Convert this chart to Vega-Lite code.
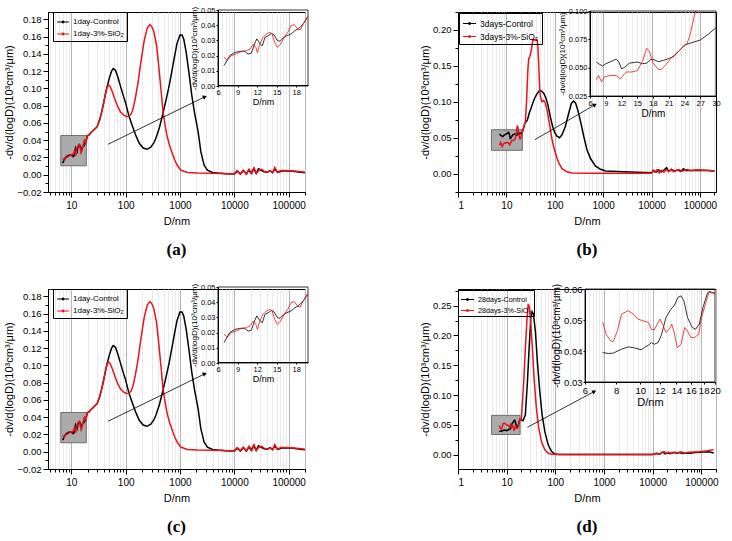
{
"$schema": "https://vega.github.io/schema/vega-lite/v6.json",
"padding": {"left": 3, "top": 5, "right": 0, "bottom": 0},
"background": "white",
"config": {
  "font": "Liberation Sans",
  "view": {"stroke": "black", "strokeWidth": 1},
  "axis": {"domainColor": "black", "tickColor": "black", "labelColor": "black", "titleColor": "black", "titleFontWeight": "normal", "labelFont": "Liberation Sans", "titleFont": "Liberation Sans", "grid": false, "labelOverlap": false},
  "legend": {"labelFont": "Liberation Sans"}
},
"datasets": {
"one": [{}],
"A": [
{"s":"1day-Control","D":6.92,"v":0.0134},{"s":"1day-Control","D":7.8,"v":0.020},{"s":"1day-Control","D":8.56,"v":0.022},{"s":"1day-Control","D":9.33,"v":0.0228},{"s":"1day-Control","D":10.1,"v":0.0228},{"s":"1day-Control","D":10.6,"v":0.021},{"s":"1day-Control","D":11.1,"v":0.0215},{"s":"1day-Control","D":11.6,"v":0.0276},{"s":"1day-Control","D":11.95,"v":0.031},{"s":"1day-Control","D":12.4,"v":0.028},{"s":"1day-Control","D":12.8,"v":0.0265},{"s":"1day-Control","D":13.2,"v":0.032},{"s":"1day-Control","D":13.7,"v":0.0331},{"s":"1day-Control","D":14.2,"v":0.0346},{"s":"1day-Control","D":14.6,"v":0.0336},{"s":"1day-Control","D":15.1,"v":0.030},{"s":"1day-Control","D":15.5,"v":0.0294},{"s":"1day-Control","D":16.0,"v":0.0316},{"s":"1day-Control","D":16.5,"v":0.033},{"s":"1day-Control","D":17.2,"v":0.0342},{"s":"1day-Control","D":17.8,"v":0.0364},{"s":"1day-Control","D":18.3,"v":0.0375},{"s":"1day-Control","D":19.1,"v":0.041},{"s":"1day-Control","D":19.7,"v":0.045},{"s":"1day-Control","D":21,"v":0.046},{"s":"1day-Control","D":23,"v":0.049},{"s":"1day-Control","D":25,"v":0.051},{"s":"1day-Control","D":27,"v":0.053},{"s":"1day-Control","D":30,"v":0.056},{"s":"1day-Control","D":33,"v":0.063},{"s":"1day-Control","D":36,"v":0.072},{"s":"1day-Control","D":39,"v":0.082},{"s":"1day-Control","D":42,"v":0.092},{"s":"1day-Control","D":45,"v":0.101},{"s":"1day-Control","D":50,"v":0.112},{"s":"1day-Control","D":55,"v":0.12},{"s":"1day-Control","D":59,"v":0.123},{"s":"1day-Control","D":65,"v":0.121},{"s":"1day-Control","D":72,"v":0.113},{"s":"1day-Control","D":80,"v":0.103},{"s":"1day-Control","D":90,"v":0.092},{"s":"1day-Control","D":100,"v":0.083},{"s":"1day-Control","D":115,"v":0.068},{"s":"1day-Control","D":134,"v":0.056},{"s":"1day-Control","D":155,"v":0.045},{"s":"1day-Control","D":178,"v":0.0365},{"s":"1day-Control","D":210,"v":0.031},{"s":"1day-Control","D":248,"v":0.0295},{"s":"1day-Control","D":290,"v":0.032},{"s":"1day-Control","D":330,"v":0.037},{"s":"1day-Control","D":359,"v":0.042},{"s":"1day-Control","D":420,"v":0.055},{"s":"1day-Control","D":489,"v":0.072},{"s":"1day-Control","D":560,"v":0.088},{"s":"1day-Control","D":631,"v":0.103},{"s":"1day-Control","D":700,"v":0.118},{"s":"1day-Control","D":777,"v":0.134},{"s":"1day-Control","D":880,"v":0.152},{"s":"1day-Control","D":1000,"v":0.162},{"s":"1day-Control","D":1090,"v":0.162},{"s":"1day-Control","D":1175,"v":0.157},{"s":"1day-Control","D":1300,"v":0.142},{"s":"1day-Control","D":1463,"v":0.118},{"s":"1day-Control","D":1650,"v":0.092},{"s":"1day-Control","D":1850,"v":0.072},{"s":"1day-Control","D":2155,"v":0.050},{"s":"1day-Control","D":2415,"v":0.027},{"s":"1day-Control","D":2780,"v":0.0112},{"s":"1day-Control","D":3200,"v":0.0054},{"s":"1day-Control","D":3980,"v":0.0026},{"s":"1day-Control","D":4900,"v":0.0019},{"s":"1day-Control","D":7000,"v":0.0012},{"s":"1day-Control","D":10000,"v":0.0008},{"s":"1day-Control","D":11500,"v":0.0042},{"s":"1day-Control","D":13000,"v":0.0006},{"s":"1day-Control","D":14800,"v":0.0048},{"s":"1day-Control","D":16800,"v":0.0008},{"s":"1day-Control","D":18400,"v":0.0055},{"s":"1day-Control","D":20400,"v":0.0018},{"s":"1day-Control","D":22700,"v":0.0072},{"s":"1day-Control","D":25200,"v":0.0015},{"s":"1day-Control","D":27800,"v":0.0068},{"s":"1day-Control","D":31300,"v":0.0052},{"s":"1day-Control","D":35300,"v":0.0034},{"s":"1day-Control","D":39700,"v":0.0028},{"s":"1day-Control","D":45500,"v":0.0048},{"s":"1day-Control","D":50400,"v":0.0024},{"s":"1day-Control","D":55100,"v":0.0065},{"s":"1day-Control","D":63000,"v":0.0028},{"s":"1day-Control","D":75000,"v":0.0044},{"s":"1day-Control","D":94000,"v":0.0046},{"s":"1day-Control","D":112000,"v":0.0042},{"s":"1day-Control","D":139000,"v":0.0034},{"s":"1day-Control","D":165000,"v":0.0028},{"s":"1day-Control","D":199000,"v":0.0022},
{"s":"1day-3%-SiO₂","D":6.92,"v":0.0189},{"s":"1day-3%-SiO₂","D":7.44,"v":0.017},{"s":"1day-3%-SiO₂","D":8.05,"v":0.020},{"s":"1day-3%-SiO₂","D":8.8,"v":0.021},{"s":"1day-3%-SiO₂","D":9.6,"v":0.0228},{"s":"1day-3%-SiO₂","D":10.36,"v":0.0232},{"s":"1day-3%-SiO₂","D":10.9,"v":0.0243},{"s":"1day-3%-SiO₂","D":11.4,"v":0.0276},{"s":"1day-3%-SiO₂","D":11.8,"v":0.0254},{"s":"1day-3%-SiO₂","D":12.05,"v":0.022},{"s":"1day-3%-SiO₂","D":12.4,"v":0.0276},{"s":"1day-3%-SiO₂","D":12.9,"v":0.032},{"s":"1day-3%-SiO₂","D":13.4,"v":0.0342},{"s":"1day-3%-SiO₂","D":13.95,"v":0.0353},{"s":"1day-3%-SiO₂","D":14.3,"v":0.0342},{"s":"1day-3%-SiO₂","D":14.7,"v":0.0287},{"s":"1day-3%-SiO₂","D":15.1,"v":0.0254},{"s":"1day-3%-SiO₂","D":15.6,"v":0.0276},{"s":"1day-3%-SiO₂","D":16.15,"v":0.032},{"s":"1day-3%-SiO₂","D":16.7,"v":0.0353},{"s":"1day-3%-SiO₂","D":17.2,"v":0.0397},{"s":"1day-3%-SiO₂","D":17.7,"v":0.0404},{"s":"1day-3%-SiO₂","D":18.2,"v":0.0375},{"s":"1day-3%-SiO₂","D":18.6,"v":0.0368},{"s":"1day-3%-SiO₂","D":19.1,"v":0.041},{"s":"1day-3%-SiO₂","D":19.7,"v":0.0456},{"s":"1day-3%-SiO₂","D":21,"v":0.046},{"s":"1day-3%-SiO₂","D":23,"v":0.049},{"s":"1day-3%-SiO₂","D":25,"v":0.051},{"s":"1day-3%-SiO₂","D":27,"v":0.053},{"s":"1day-3%-SiO₂","D":30,"v":0.056},{"s":"1day-3%-SiO₂","D":33,"v":0.063},{"s":"1day-3%-SiO₂","D":36,"v":0.072},{"s":"1day-3%-SiO₂","D":39,"v":0.082},{"s":"1day-3%-SiO₂","D":42,"v":0.092},{"s":"1day-3%-SiO₂","D":45,"v":0.1},{"s":"1day-3%-SiO₂","D":48,"v":0.104},{"s":"1day-3%-SiO₂","D":52,"v":0.102},{"s":"1day-3%-SiO₂","D":57,"v":0.096},{"s":"1day-3%-SiO₂","D":63,"v":0.088},{"s":"1day-3%-SiO₂","D":70,"v":0.080},{"s":"1day-3%-SiO₂","D":80,"v":0.073},{"s":"1day-3%-SiO₂","D":92,"v":0.069},{"s":"1day-3%-SiO₂","D":104,"v":0.0675},{"s":"1day-3%-SiO₂","D":114,"v":0.0677},{"s":"1day-3%-SiO₂","D":125,"v":0.070},{"s":"1day-3%-SiO₂","D":135,"v":0.075},{"s":"1day-3%-SiO₂","D":150,"v":0.088},{"s":"1day-3%-SiO₂","D":170,"v":0.108},{"s":"1day-3%-SiO₂","D":190,"v":0.13},{"s":"1day-3%-SiO₂","D":220,"v":0.156},{"s":"1day-3%-SiO₂","D":250,"v":0.17},{"s":"1day-3%-SiO₂","D":279,"v":0.174},{"s":"1day-3%-SiO₂","D":300,"v":0.172},{"s":"1day-3%-SiO₂","D":330,"v":0.166},{"s":"1day-3%-SiO₂","D":370,"v":0.150},{"s":"1day-3%-SiO₂","D":400,"v":0.130},{"s":"1day-3%-SiO₂","D":450,"v":0.097},{"s":"1day-3%-SiO₂","D":489,"v":0.072},{"s":"1day-3%-SiO₂","D":530,"v":0.058},{"s":"1day-3%-SiO₂","D":582,"v":0.044},{"s":"1day-3%-SiO₂","D":650,"v":0.033},{"s":"1day-3%-SiO₂","D":721,"v":0.025},{"s":"1day-3%-SiO₂","D":800,"v":0.017},{"s":"1day-3%-SiO₂","D":892,"v":0.011},{"s":"1day-3%-SiO₂","D":1030,"v":0.0054},{"s":"1day-3%-SiO₂","D":1367,"v":0.0027},{"s":"1day-3%-SiO₂","D":2100,"v":0.002},{"s":"1day-3%-SiO₂","D":4000,"v":0.0018},{"s":"1day-3%-SiO₂","D":6000,"v":0.0015},{"s":"1day-3%-SiO₂","D":8000,"v":0.0012},{"s":"1day-3%-SiO₂","D":10000,"v":0.0009},{"s":"1day-3%-SiO₂","D":11200,"v":0.0048},{"s":"1day-3%-SiO₂","D":12800,"v":0.0008},{"s":"1day-3%-SiO₂","D":14500,"v":0.0052},{"s":"1day-3%-SiO₂","D":16500,"v":0.0006},{"s":"1day-3%-SiO₂","D":18800,"v":0.0062},{"s":"1day-3%-SiO₂","D":21000,"v":0.0012},{"s":"1day-3%-SiO₂","D":23200,"v":0.0078},{"s":"1day-3%-SiO₂","D":25500,"v":0.0014},{"s":"1day-3%-SiO₂","D":28500,"v":0.0056},{"s":"1day-3%-SiO₂","D":32000,"v":0.0064},{"s":"1day-3%-SiO₂","D":36000,"v":0.0036},{"s":"1day-3%-SiO₂","D":41000,"v":0.0030},{"s":"1day-3%-SiO₂","D":46000,"v":0.0046},{"s":"1day-3%-SiO₂","D":51000,"v":0.0026},{"s":"1day-3%-SiO₂","D":55500,"v":0.0084},{"s":"1day-3%-SiO₂","D":62000,"v":0.003},{"s":"1day-3%-SiO₂","D":72000,"v":0.0048},{"s":"1day-3%-SiO₂","D":90000,"v":0.0050},{"s":"1day-3%-SiO₂","D":110000,"v":0.0046},{"s":"1day-3%-SiO₂","D":140000,"v":0.0040},{"s":"1day-3%-SiO₂","D":170000,"v":0.0034},{"s":"1day-3%-SiO₂","D":199000,"v":0.0028}
],
"B": [
{"s":"3days-Control","D":7.2,"v":0.055},{"s":"3days-Control","D":7.8,"v":0.053},{"s":"3days-Control","D":8.4,"v":0.0515},{"s":"3days-Control","D":9,"v":0.0535},{"s":"3days-Control","D":9.8,"v":0.055},{"s":"3days-Control","D":10.5,"v":0.0565},{"s":"3days-Control","D":11,"v":0.0575},{"s":"3days-Control","D":11.5,"v":0.055},{"s":"3days-Control","D":12,"v":0.049},{"s":"3days-Control","D":12.5,"v":0.050},{"s":"3days-Control","D":13.5,"v":0.054},{"s":"3days-Control","D":15,"v":0.055},{"s":"3days-Control","D":16,"v":0.0535},{"s":"3days-Control","D":16.8,"v":0.054},{"s":"3days-Control","D":17.5,"v":0.057},{"s":"3days-Control","D":18,"v":0.0574},{"s":"3days-Control","D":19,"v":0.0553},{"s":"3days-Control","D":20,"v":0.0565},{"s":"3days-Control","D":21,"v":0.058},{"s":"3days-Control","D":22,"v":0.060},{"s":"3days-Control","D":23,"v":0.065},{"s":"3days-Control","D":24,"v":0.070},{"s":"3days-Control","D":25,"v":0.0715},{"s":"3days-Control","D":27,"v":0.0744},{"s":"3days-Control","D":28.5,"v":0.0794},{"s":"3days-Control","D":30,"v":0.0853},{"s":"3days-Control","D":32,"v":0.090},{"s":"3days-Control","D":35,"v":0.098},{"s":"3days-Control","D":39,"v":0.106},{"s":"3days-Control","D":43,"v":0.111},{"s":"3days-Control","D":47,"v":0.115},{"s":"3days-Control","D":50.5,"v":0.116},{"s":"3days-Control","D":55,"v":0.114},{"s":"3days-Control","D":59,"v":0.112},{"s":"3days-Control","D":65,"v":0.106},{"s":"3days-Control","D":72,"v":0.096},{"s":"3days-Control","D":81,"v":0.079},{"s":"3days-Control","D":90,"v":0.066},{"s":"3days-Control","D":100,"v":0.057},{"s":"3days-Control","D":111,"v":0.052},{"s":"3days-Control","D":125,"v":0.050},{"s":"3days-Control","D":141,"v":0.054},{"s":"3days-Control","D":166,"v":0.066},{"s":"3days-Control","D":194,"v":0.084},{"s":"3days-Control","D":221,"v":0.098},{"s":"3days-Control","D":245,"v":0.101},{"s":"3days-Control","D":270,"v":0.098},{"s":"3days-Control","D":300,"v":0.088},{"s":"3days-Control","D":340,"v":0.073},{"s":"3days-Control","D":397,"v":0.052},{"s":"3days-Control","D":465,"v":0.033},{"s":"3days-Control","D":548,"v":0.021},{"s":"3days-Control","D":690,"v":0.0107},{"s":"3days-Control","D":880,"v":0.006},{"s":"3days-Control","D":1120,"v":0.0036},{"s":"3days-Control","D":2000,"v":0.0028},{"s":"3days-Control","D":5000,"v":0.0018},{"s":"3days-Control","D":10000,"v":0.0012},{"s":"3days-Control","D":11000,"v":0.004},{"s":"3days-Control","D":12500,"v":0.002},{"s":"3days-Control","D":14000,"v":0.005},{"s":"3days-Control","D":16000,"v":0.0025},{"s":"3days-Control","D":18000,"v":0.005},{"s":"3days-Control","D":20500,"v":0.0082},{"s":"3days-Control","D":22500,"v":0.003},{"s":"3days-Control","D":26000,"v":0.0055},{"s":"3days-Control","D":30000,"v":0.0035},{"s":"3days-Control","D":35000,"v":0.005},{"s":"3days-Control","D":40000,"v":0.0032},{"s":"3days-Control","D":46000,"v":0.0068},{"s":"3days-Control","D":52000,"v":0.004},{"s":"3days-Control","D":60000,"v":0.0045},{"s":"3days-Control","D":75000,"v":0.0042},{"s":"3days-Control","D":95000,"v":0.0048},{"s":"3days-Control","D":120000,"v":0.0045},{"s":"3days-Control","D":150000,"v":0.0042},{"s":"3days-Control","D":180000,"v":0.0038},{"s":"3days-Control","D":200000,"v":0.0035},
{"s":"3days-3%-SiO₂","D":7.2,"v":0.0394},{"s":"3days-3%-SiO₂","D":7.6,"v":0.0432},{"s":"3days-3%-SiO₂","D":8.2,"v":0.0376},{"s":"3days-3%-SiO₂","D":8.8,"v":0.042},{"s":"3days-3%-SiO₂","D":10,"v":0.0432},{"s":"3days-3%-SiO₂","D":11,"v":0.043},{"s":"3days-3%-SiO₂","D":11.8,"v":0.0400},{"s":"3days-3%-SiO₂","D":12.5,"v":0.0444},{"s":"3days-3%-SiO₂","D":13,"v":0.0462},{"s":"3days-3%-SiO₂","D":14,"v":0.0462},{"s":"3days-3%-SiO₂","D":15,"v":0.0474},{"s":"3days-3%-SiO₂","D":16,"v":0.0556},{"s":"3days-3%-SiO₂","D":16.8,"v":0.067},{"s":"3days-3%-SiO₂","D":17.3,"v":0.0647},{"s":"3days-3%-SiO₂","D":18,"v":0.0544},{"s":"3days-3%-SiO₂","D":19,"v":0.0485},{"s":"3days-3%-SiO₂","D":19.6,"v":0.0485},{"s":"3days-3%-SiO₂","D":20.5,"v":0.0529},{"s":"3days-3%-SiO₂","D":21.5,"v":0.0588},{"s":"3days-3%-SiO₂","D":23,"v":0.065},{"s":"3days-3%-SiO₂","D":24.5,"v":0.0715},{"s":"3days-3%-SiO₂","D":25,"v":0.078},{"s":"3days-3%-SiO₂","D":25.5,"v":0.088},{"s":"3days-3%-SiO₂","D":26,"v":0.0985},{"s":"3days-3%-SiO₂","D":26.1,"v":0.100},{"s":"3days-3%-SiO₂","D":27,"v":0.125},{"s":"3days-3%-SiO₂","D":28,"v":0.148},{"s":"3days-3%-SiO₂","D":29,"v":0.16},{"s":"3days-3%-SiO₂","D":30.5,"v":0.163},{"s":"3days-3%-SiO₂","D":32,"v":0.168},{"s":"3days-3%-SiO₂","D":34,"v":0.179},{"s":"3days-3%-SiO₂","D":35.5,"v":0.187},{"s":"3days-3%-SiO₂","D":38,"v":0.186},{"s":"3days-3%-SiO₂","D":40,"v":0.187},{"s":"3days-3%-SiO₂","D":43,"v":0.186},{"s":"3days-3%-SiO₂","D":44.5,"v":0.181},{"s":"3days-3%-SiO₂","D":46.7,"v":0.149},{"s":"3days-3%-SiO₂","D":48.9,"v":0.116},{"s":"3days-3%-SiO₂","D":50.5,"v":0.107},{"s":"3days-3%-SiO₂","D":54.6,"v":0.100},{"s":"3days-3%-SiO₂","D":59,"v":0.102},{"s":"3days-3%-SiO₂","D":64,"v":0.098},{"s":"3days-3%-SiO₂","D":70,"v":0.087},{"s":"3days-3%-SiO₂","D":75,"v":0.075},{"s":"3days-3%-SiO₂","D":82,"v":0.060},{"s":"3days-3%-SiO₂","D":88,"v":0.047},{"s":"3days-3%-SiO₂","D":95,"v":0.037},{"s":"3days-3%-SiO₂","D":103,"v":0.029},{"s":"3days-3%-SiO₂","D":112,"v":0.021},{"s":"3days-3%-SiO₂","D":121,"v":0.015},{"s":"3days-3%-SiO₂","D":141,"v":0.0068},{"s":"3days-3%-SiO₂","D":178,"v":0.0025},{"s":"3days-3%-SiO₂","D":228,"v":0.001},{"s":"3days-3%-SiO₂","D":500,"v":0.0005},{"s":"3days-3%-SiO₂","D":2000,"v":0.0004},{"s":"3days-3%-SiO₂","D":6000,"v":0.0005},{"s":"3days-3%-SiO₂","D":10000,"v":0.0008},{"s":"3days-3%-SiO₂","D":10800,"v":0.005},{"s":"3days-3%-SiO₂","D":11800,"v":0.002},{"s":"3days-3%-SiO₂","D":13000,"v":0.0055},{"s":"3days-3%-SiO₂","D":14500,"v":0.001},{"s":"3days-3%-SiO₂","D":16000,"v":0.0045},{"s":"3days-3%-SiO₂","D":18000,"v":0.002},{"s":"3days-3%-SiO₂","D":20000,"v":0.0055},{"s":"3days-3%-SiO₂","D":23000,"v":0.003},{"s":"3days-3%-SiO₂","D":25500,"v":0.0062},{"s":"3days-3%-SiO₂","D":28500,"v":0.0025},{"s":"3days-3%-SiO₂","D":32000,"v":0.0045},{"s":"3days-3%-SiO₂","D":37000,"v":0.0055},{"s":"3days-3%-SiO₂","D":42000,"v":0.003},{"s":"3days-3%-SiO₂","D":47000,"v":0.0045},{"s":"3days-3%-SiO₂","D":55000,"v":0.0058},{"s":"3days-3%-SiO₂","D":65000,"v":0.004},{"s":"3days-3%-SiO₂","D":80000,"v":0.005},{"s":"3days-3%-SiO₂","D":100000,"v":0.0052},{"s":"3days-3%-SiO₂","D":130000,"v":0.0048},{"s":"3days-3%-SiO₂","D":160000,"v":0.0045},{"s":"3days-3%-SiO₂","D":200000,"v":0.004}
],
"D": [
{"s":"28days-Control","D":7.07,"v":0.0395},{"s":"28days-Control","D":7.44,"v":0.0392},{"s":"28days-Control","D":7.79,"v":0.0393},{"s":"28days-Control","D":8.42,"v":0.0406},{"s":"28days-Control","D":8.96,"v":0.0413},{"s":"28days-Control","D":9.39,"v":0.0411},{"s":"28days-Control","D":10.1,"v":0.0404},{"s":"28days-Control","D":10.4,"v":0.0411},{"s":"28days-Control","D":10.8,"v":0.0419},{"s":"28days-Control","D":11.1,"v":0.0427},{"s":"28days-Control","D":11.4,"v":0.0422},{"s":"28days-Control","D":11.8,"v":0.0427},{"s":"28days-Control","D":12.2,"v":0.0454},{"s":"28days-Control","D":12.7,"v":0.0508},{"s":"28days-Control","D":13.3,"v":0.0535},{"s":"28days-Control","D":13.7,"v":0.0546},{"s":"28days-Control","D":14.2,"v":0.0573},{"s":"28days-Control","D":14.6,"v":0.0578},{"s":"28days-Control","D":15.0,"v":0.0562},{"s":"28days-Control","D":15.5,"v":0.0508},{"s":"28days-Control","D":16.2,"v":0.0476},{"s":"28days-Control","D":16.7,"v":0.047},{"s":"28days-Control","D":17.3,"v":0.0487},{"s":"28days-Control","D":17.9,"v":0.0541},{"s":"28days-Control","D":18.6,"v":0.0584},{"s":"28days-Control","D":18.9,"v":0.0592},{"s":"28days-Control","D":20.0,"v":0.0586},{"s":"28days-Control","D":21.7,"v":0.057},{"s":"28days-Control","D":24.2,"v":0.067},{"s":"28days-Control","D":26.7,"v":0.122},{"s":"28days-Control","D":28.9,"v":0.178},{"s":"28days-Control","D":31.2,"v":0.228},{"s":"28days-Control","D":33.3,"v":0.240},{"s":"28days-Control","D":35.5,"v":0.236},{"s":"28days-Control","D":39,"v":0.206},{"s":"28days-Control","D":42.8,"v":0.156},{"s":"28days-Control","D":47.9,"v":0.106},{"s":"28days-Control","D":53.5,"v":0.067},{"s":"28days-Control","D":60.7,"v":0.039},{"s":"28days-Control","D":71,"v":0.017},{"s":"28days-Control","D":83,"v":0.0056},{"s":"28days-Control","D":97.5,"v":0.0011},{"s":"28days-Control","D":114,"v":0.0003},{"s":"28days-Control","D":300,"v":0.0002},{"s":"28days-Control","D":1000,"v":0.0002},{"s":"28days-Control","D":5000,"v":0.0003},{"s":"28days-Control","D":10000,"v":0.0004},{"s":"28days-Control","D":12000,"v":0.0025},{"s":"28days-Control","D":14000,"v":0.001},{"s":"28days-Control","D":16000,"v":0.0045},{"s":"28days-Control","D":18000,"v":0.0012},{"s":"28days-Control","D":20000,"v":0.003},{"s":"28days-Control","D":23000,"v":0.0015},{"s":"28days-Control","D":27000,"v":0.004},{"s":"28days-Control","D":31000,"v":0.0025},{"s":"28days-Control","D":36000,"v":0.0038},{"s":"28days-Control","D":42000,"v":0.002},{"s":"28days-Control","D":50000,"v":0.003},{"s":"28days-Control","D":60000,"v":0.0025},{"s":"28days-Control","D":75000,"v":0.0035},{"s":"28days-Control","D":95000,"v":0.004},{"s":"28days-Control","D":120000,"v":0.005},{"s":"28days-Control","D":150000,"v":0.0045},{"s":"28days-Control","D":180000,"v":0.003},
{"s":"28days-3%-SiO₂","D":7.07,"v":0.0492},{"s":"28days-3%-SiO₂","D":7.3,"v":0.0454},{"s":"28days-3%-SiO₂","D":7.6,"v":0.0433},{"s":"28days-3%-SiO₂","D":7.79,"v":0.043},{"s":"28days-3%-SiO₂","D":8.1,"v":0.0465},{"s":"28days-3%-SiO₂","D":8.42,"v":0.0519},{"s":"28days-3%-SiO₂","D":8.94,"v":0.053},{"s":"28days-3%-SiO₂","D":9.39,"v":0.0519},{"s":"28days-3%-SiO₂","D":9.8,"v":0.0503},{"s":"28days-3%-SiO₂","D":10.2,"v":0.0498},{"s":"28days-3%-SiO₂","D":10.8,"v":0.0492},{"s":"28days-3%-SiO₂","D":11.1,"v":0.047},{"s":"28days-3%-SiO₂","D":11.4,"v":0.0468},{"s":"28days-3%-SiO₂","D":12.0,"v":0.0503},{"s":"28days-3%-SiO₂","D":12.3,"v":0.0487},{"s":"28days-3%-SiO₂","D":12.7,"v":0.046},{"s":"28days-3%-SiO₂","D":13.1,"v":0.047},{"s":"28days-3%-SiO₂","D":13.4,"v":0.0487},{"s":"28days-3%-SiO₂","D":13.7,"v":0.046},{"s":"28days-3%-SiO₂","D":14.1,"v":0.0411},{"s":"28days-3%-SiO₂","D":14.6,"v":0.0422},{"s":"28days-3%-SiO₂","D":15.1,"v":0.0476},{"s":"28days-3%-SiO₂","D":15.5,"v":0.0465},{"s":"28days-3%-SiO₂","D":16.0,"v":0.0443},{"s":"28days-3%-SiO₂","D":16.5,"v":0.0443},{"s":"28days-3%-SiO₂","D":17.2,"v":0.0454},{"s":"28days-3%-SiO₂","D":17.6,"v":0.0503},{"s":"28days-3%-SiO₂","D":18.3,"v":0.0551},{"s":"28days-3%-SiO₂","D":18.9,"v":0.0589},{"s":"28days-3%-SiO₂","D":20.0,"v":0.0586},{"s":"28days-3%-SiO₂","D":20.7,"v":0.078},{"s":"28days-3%-SiO₂","D":22.4,"v":0.122},{"s":"28days-3%-SiO₂","D":24.2,"v":0.178},{"s":"28days-3%-SiO₂","D":26.2,"v":0.228},{"s":"28days-3%-SiO₂","D":27.7,"v":0.253},{"s":"28days-3%-SiO₂","D":29.4,"v":0.247},{"s":"28days-3%-SiO₂","D":31.2,"v":0.222},{"s":"28days-3%-SiO₂","D":33.8,"v":0.178},{"s":"28days-3%-SiO₂","D":36.6,"v":0.128},{"s":"28days-3%-SiO₂","D":40.8,"v":0.078},{"s":"28days-3%-SiO₂","D":45.7,"v":0.044},{"s":"28days-3%-SiO₂","D":51.9,"v":0.022},{"s":"28days-3%-SiO₂","D":60.7,"v":0.0083},{"s":"28days-3%-SiO₂","D":71,"v":0.0028},{"s":"28days-3%-SiO₂","D":83,"v":0.0006},{"s":"28days-3%-SiO₂","D":150,"v":0.0003},{"s":"28days-3%-SiO₂","D":1000,"v":0.0002},{"s":"28days-3%-SiO₂","D":5000,"v":0.0003},{"s":"28days-3%-SiO₂","D":10000,"v":0.0005},{"s":"28days-3%-SiO₂","D":11500,"v":0.002},{"s":"28days-3%-SiO₂","D":13500,"v":0.0008},{"s":"28days-3%-SiO₂","D":15500,"v":0.0035},{"s":"28days-3%-SiO₂","D":17500,"v":0.005},{"s":"28days-3%-SiO₂","D":19000,"v":0.002},{"s":"28days-3%-SiO₂","D":21000,"v":0.0045},{"s":"28days-3%-SiO₂","D":24000,"v":0.002},{"s":"28days-3%-SiO₂","D":28000,"v":0.0042},{"s":"28days-3%-SiO₂","D":32000,"v":0.003},{"s":"28days-3%-SiO₂","D":38000,"v":0.0048},{"s":"28days-3%-SiO₂","D":45000,"v":0.0025},{"s":"28days-3%-SiO₂","D":55000,"v":0.004},{"s":"28days-3%-SiO₂","D":70000,"v":0.0045},{"s":"28days-3%-SiO₂","D":90000,"v":0.005},{"s":"28days-3%-SiO₂","D":120000,"v":0.006},{"s":"28days-3%-SiO₂","D":150000,"v":0.0075},{"s":"28days-3%-SiO₂","D":180000,"v":0.0085}
]
},
"resolve": {"scale": {"color": "independent"}, "legend": {"color": "independent"}},
"bounds": "flush",
"columns": 2,
"spacing": {"row": 97, "column": 153},
"concat": [
{
 "width": 257, "height": 180,
 "title": {"text": "(a)", "orient": "bottom", "frame": "group", "anchor": "middle", "offset": 16, "font": "Liberation Serif", "fontSize": 17, "fontWeight": "bold", "color": "black"},
 "resolve": {"scale": {"x": "independent", "y": "independent"}},
 "layer": [
  {
   "layer": [
    {"data": {"name": "one"}, "mark": {"type": "rect", "fill": "#ababab", "stroke": "#555555", "strokeWidth": 0.8},
     "encoding": {"x": {"datum": 6.4, "type": "quantitative"}, "x2": {"datum": 18.9}, "y": {"datum": 0.0104, "type": "quantitative"}, "y2": {"datum": 0.0455}}},
    {"data": {"name": "A"}, "mark": {"type": "line", "strokeWidth": 1.5},
     "encoding": {
      "x": {"field": "D", "type": "quantitative", "scale": {"type": "log", "domain": [3.72, 200000], "nice": false},
            "axis": {"title": "D/nm", "titleFontSize": 11, "titlePadding": 5, "labelFontSize": 10, "labelPadding": 3, "labelOverlap": false, "tickCount": 100,
                     "values": [4,5,6,7,8,9,10,20,30,40,50,60,70,80,90,100,200,300,400,500,600,700,800,900,1000,2000,3000,4000,5000,6000,7000,8000,9000,10000,20000,30000,40000,50000,60000,70000,80000,90000,100000,200000],
                     "labelExpr": "indexof([1,10,100,1000,10000,100000], datum.value) >= 0 ? format(datum.value, 'd') : ''",
                     "grid": true, "gridWidth": 0.8,
                     "gridColor": {"condition": {"test": "indexof([1,10,100,1000,10000,100000], datum.value) >= 0", "value": "#a0a0a0"}, "value": "#e4e4e4"},
                     "tickSize": {"condition": {"test": "indexof([1,10,100,1000,10000,100000], datum.value) >= 0", "value": 5}, "value": 3}}},
      "y": {"field": "v", "type": "quantitative", "scale": {"domain": [-0.02, 0.1886], "nice": false, "zero": false},
            "axis": {"title": "-dv/d(logD)(10³cm³/μm)", "titleFontSize": 11, "titlePadding": 2, "labelPadding": 2, "labelFontSize": 9.5, "labelOverlap": false, "tickSize": 5, "format": ".2f", "tickCount": 100,
                     "values": [-0.02,0,0.02,0.04,0.06,0.08,0.1,0.12,0.14,0.16,0.18]}},
      "color": {"field": "s", "type": "nominal", "scale": {"domain": ["1day-Control", "1day-3%-SiO₂"], "range": ["#000000", "#e8141a"]},
                "legend": {"orient": "none", "legendX": 5, "legendY": 0, "title": null, "strokeColor": "black", "padding": 3, "rowPadding": 1, "labelFontSize": 8, "labelOffset": 3, "symbolType": "M-1,0H1M-0.15,0A0.15,0.15,0,1,0,0.15,0A0.15,0.15,0,1,0,-0.15,0", "symbolSize": 140, "symbolStrokeWidth": 1.2}}
     }},
    {"data": {"name": "one"}, "mark": {"type": "rule", "strokeWidth": 0.8, "color": "black"},
     "encoding": {"x": {"datum": 47.4}, "y": {"datum": 0.0353}, "x2": {"datum": 2864}, "y2": {"datum": 0.0903}}},
    {"data": {"name": "one"}, "mark": {"type": "point", "shape": "triangle-right", "filled": true, "color": "black", "size": 22, "angle": 334, "opacity": 1},
     "encoding": {"x": {"datum": 2864}, "y": {"datum": 0.0903}}}
   ]
  },
  {"data": {"name": "one"}, "mark": {"type": "point", "opacity": 0},
   "encoding": {"y": {"datum": 0, "type": "quantitative", "scale": {"domain": [-0.02, 0.1886], "nice": false, "zero": false},
     "axis": {"orient": "left", "values": [-0.01,0.01,0.03,0.05,0.07,0.09,0.11,0.13,0.15,0.17], "tickCount": 100, "labels": false, "title": null, "domain": false, "tickSize": 3, "grid": false}}}},
  {
   "layer": [
    {"data": {"name": "A"}, "transform": [{"filter": "datum.D <= 19.8"}], "mark": {"type": "line", "strokeWidth": 0.8},
     "encoding": {
      "x": {"field": "D", "type": "quantitative", "scale": {"domain": [6, 19.8], "range": [170, 260], "nice": false, "zero": false},
            "axis": {"orient": "bottom", "offset": -107, "title": "D/nm", "titleFontSize": 9, "titlePadding": 2, "labelFontSize": 7.5, "labelPadding": 1, "tickSize": 2, "tickCount": 100, "values": [6,9,12,15,18], "format": "d", "labelFlush": false, "labelOverlap": false}},
      "y": {"field": "v", "type": "quantitative", "scale": {"domain": [0, 0.05], "range": [74, -2], "nice": false, "zero": false},
            "axis": {"orient": "left", "offset": -170, "title": "-dv/d(logD)(10³cm³/μm)", "titleFontSize": 8, "titlePadding": 2, "labelFontSize": 7.5, "labelPadding": 1, "tickSize": 2, "tickCount": 100, "values": [0,0.01,0.02,0.03,0.04,0.05], "format": ".2f", "labelFlush": false, "labelOverlap": false}},
      "color": {"field": "s", "type": "nominal", "legend": null}
     }},
    {"data": {"name": "one"}, "mark": {"type": "rect", "filled": false, "stroke": "black", "strokeWidth": 0.8},
     "encoding": {"x": {"datum": 6}, "x2": {"datum": 19.8}, "y": {"datum": 0}, "y2": {"datum": 0.05}}}
   ]
  }
 ]
},
{
 "width": 258, "height": 180,
 "title": {"text": "(b)", "orient": "bottom", "frame": "group", "anchor": "middle", "offset": 16, "font": "Liberation Serif", "fontSize": 17, "fontWeight": "bold", "color": "black"},
 "resolve": {"scale": {"x": "independent", "y": "independent"}},
 "layer": [
  {
   "layer": [
    {"data": {"name": "one"}, "mark": {"type": "rect", "fill": "#ababab", "stroke": "#555555", "strokeWidth": 0.8},
     "encoding": {"x": {"datum": 4.9, "type": "quantitative"}, "x2": {"datum": 21.4}, "y": {"datum": 0.0324, "type": "quantitative"}, "y2": {"datum": 0.0611}}},
    {"data": {"name": "B"}, "mark": {"type": "line", "strokeWidth": 1.5},
     "encoding": {
      "x": {"field": "D", "type": "quantitative", "scale": {"type": "log", "domain": [1, 215000], "nice": false},
            "axis": {"title": "D/nm", "titleFontSize": 11, "titlePadding": 5, "labelFontSize": 10, "labelPadding": 3, "labelOverlap": false, "tickCount": 100,
                     "values": [1,2,3,4,5,6,7,8,9,10,20,30,40,50,60,70,80,90,100,200,300,400,500,600,700,800,900,1000,2000,3000,4000,5000,6000,7000,8000,9000,10000,20000,30000,40000,50000,60000,70000,80000,90000,100000,200000],
                     "labelExpr": "indexof([1,10,100,1000,10000,100000], datum.value) >= 0 ? format(datum.value, 'd') : ''",
                     "grid": true, "gridWidth": 0.8,
                     "gridColor": {"condition": {"test": "indexof([1,10,100,1000,10000,100000], datum.value) >= 0", "value": "#a0a0a0"}, "value": "#e4e4e4"},
                     "tickSize": {"condition": {"test": "indexof([1,10,100,1000,10000,100000], datum.value) >= 0", "value": 5}, "value": 3}}},
      "y": {"field": "v", "type": "quantitative", "scale": {"domain": [-0.0256, 0.225], "nice": false, "zero": false},
            "axis": {"title": "-dv/d(logD)(10³cm³/μm)", "titleFontSize": 11, "titlePadding": 2, "labelPadding": 2, "labelFontSize": 9.5, "labelOverlap": false, "tickSize": 5, "format": ".2f", "tickCount": 100,
                     "values": [0,0.05,0.1,0.15,0.2]}},
      "color": {"field": "s", "type": "nominal", "scale": {"domain": ["3days-Control", "3days-3%-SiO₂"], "range": ["#000000", "#e8141a"]},
                "legend": {"orient": "none", "legendX": 1, "legendY": 1, "title": null, "strokeColor": "black", "padding": 3, "rowPadding": 1, "labelFontSize": 8.5, "labelOffset": 3, "symbolType": "M-1,0H1M-0.15,0A0.15,0.15,0,1,0,0.15,0A0.15,0.15,0,1,0,-0.15,0", "symbolSize": 170, "symbolStrokeWidth": 1.2}}
     }},
    {"data": {"name": "one"}, "mark": {"type": "rule", "strokeWidth": 0.8, "color": "black"},
     "encoding": {"x": {"datum": 38.7}, "y": {"datum": 0.0472}, "x2": {"datum": 676}, "y2": {"datum": 0.0958}}},
    {"data": {"name": "one"}, "mark": {"type": "point", "shape": "triangle-right", "filled": true, "color": "black", "size": 22, "angle": 330, "opacity": 1},
     "encoding": {"x": {"datum": 676}, "y": {"datum": 0.0958}}}
   ]
  },
  {"data": {"name": "one"}, "mark": {"type": "point", "opacity": 0},
   "encoding": {"y": {"datum": 0, "type": "quantitative", "scale": {"domain": [-0.0256, 0.225], "nice": false, "zero": false},
     "axis": {"orient": "left", "values": [-0.025,0.025,0.075,0.125,0.175,0.225], "tickCount": 100, "labels": false, "title": null, "domain": false, "tickSize": 3, "grid": false}}}},
  {
   "layer": [
    {"data": {"name": "B"}, "transform": [{"filter": "datum.D <= 30 && datum.v <= 0.1001"}], "mark": {"type": "line", "strokeWidth": 0.8},
     "encoding": {
      "x": {"field": "D", "type": "quantitative", "scale": {"domain": [6, 30], "range": [132, 258], "nice": false, "zero": false},
            "axis": {"orient": "bottom", "offset": -96, "title": "D/nm", "titleFontSize": 10, "titlePadding": 2, "labelFontSize": 7.5, "labelPadding": 1, "tickSize": 2, "tickCount": 100, "values": [6,9,12,15,18,21,24,27,30], "format": "d", "labelFlush": false, "labelOverlap": false}},
      "y": {"field": "v", "type": "quantitative", "scale": {"domain": [0.025, 0.1], "range": [84, -1], "nice": false, "zero": false},
            "axis": {"orient": "left", "offset": -132, "title": "-dv/d(logD)(10³cm³/μm)", "titleFontSize": 8, "titlePadding": 2, "labelFontSize": 7.5, "labelPadding": 1, "tickSize": 2, "tickCount": 100, "values": [0.025,0.05,0.075,0.1], "format": ".3f", "labelFlush": false, "labelOverlap": false}},
      "color": {"field": "s", "type": "nominal", "legend": null}
     }},
    {"data": {"name": "one"}, "mark": {"type": "rect", "filled": false, "stroke": "black", "strokeWidth": 0.8},
     "encoding": {"x": {"datum": 6}, "x2": {"datum": 30}, "y": {"datum": 0.025}, "y2": {"datum": 0.1}}}
   ]
  }
 ]
},
{
 "width": 257, "height": 180,
 "title": {"text": "(c)", "orient": "bottom", "frame": "group", "anchor": "middle", "offset": 16, "font": "Liberation Serif", "fontSize": 17, "fontWeight": "bold", "color": "black"},
 "resolve": {"scale": {"x": "independent", "y": "independent"}},
 "layer": [
  {
   "layer": [
    {"data": {"name": "one"}, "mark": {"type": "rect", "fill": "#ababab", "stroke": "#555555", "strokeWidth": 0.8},
     "encoding": {"x": {"datum": 6.4, "type": "quantitative"}, "x2": {"datum": 18.9}, "y": {"datum": 0.0104, "type": "quantitative"}, "y2": {"datum": 0.0455}}},
    {"data": {"name": "A"}, "mark": {"type": "line", "strokeWidth": 1.5},
     "encoding": {
      "x": {"field": "D", "type": "quantitative", "scale": {"type": "log", "domain": [3.72, 200000], "nice": false},
            "axis": {"title": "D/nm", "titleFontSize": 11, "titlePadding": 5, "labelFontSize": 10, "labelPadding": 3, "labelOverlap": false, "tickCount": 100,
                     "values": [4,5,6,7,8,9,10,20,30,40,50,60,70,80,90,100,200,300,400,500,600,700,800,900,1000,2000,3000,4000,5000,6000,7000,8000,9000,10000,20000,30000,40000,50000,60000,70000,80000,90000,100000,200000],
                     "labelExpr": "indexof([1,10,100,1000,10000,100000], datum.value) >= 0 ? format(datum.value, 'd') : ''",
                     "grid": true, "gridWidth": 0.8,
                     "gridColor": {"condition": {"test": "indexof([1,10,100,1000,10000,100000], datum.value) >= 0", "value": "#a0a0a0"}, "value": "#e4e4e4"},
                     "tickSize": {"condition": {"test": "indexof([1,10,100,1000,10000,100000], datum.value) >= 0", "value": 5}, "value": 3}}},
      "y": {"field": "v", "type": "quantitative", "scale": {"domain": [-0.02, 0.1886], "nice": false, "zero": false},
            "axis": {"title": "-dv/d(logD)(10³cm³/μm)", "titleFontSize": 11, "titlePadding": 2, "labelPadding": 2, "labelFontSize": 9.5, "labelOverlap": false, "tickSize": 5, "format": ".2f", "tickCount": 100,
                     "values": [-0.02,0,0.02,0.04,0.06,0.08,0.1,0.12,0.14,0.16,0.18]}},
      "color": {"field": "s", "type": "nominal", "scale": {"domain": ["1day-Control", "1day-3%-SiO₂"], "range": ["#000000", "#e8141a"]},
                "legend": {"orient": "none", "legendX": 5, "legendY": 0, "title": null, "strokeColor": "black", "padding": 3, "rowPadding": 1, "labelFontSize": 8, "labelOffset": 3, "symbolType": "M-1,0H1M-0.15,0A0.15,0.15,0,1,0,0.15,0A0.15,0.15,0,1,0,-0.15,0", "symbolSize": 140, "symbolStrokeWidth": 1.2}}
     }},
    {"data": {"name": "one"}, "mark": {"type": "rule", "strokeWidth": 0.8, "color": "black"},
     "encoding": {"x": {"datum": 47.4}, "y": {"datum": 0.0353}, "x2": {"datum": 2864}, "y2": {"datum": 0.0903}}},
    {"data": {"name": "one"}, "mark": {"type": "point", "shape": "triangle-right", "filled": true, "color": "black", "size": 22, "angle": 334, "opacity": 1},
     "encoding": {"x": {"datum": 2864}, "y": {"datum": 0.0903}}}
   ]
  },
  {"data": {"name": "one"}, "mark": {"type": "point", "opacity": 0},
   "encoding": {"y": {"datum": 0, "type": "quantitative", "scale": {"domain": [-0.02, 0.1886], "nice": false, "zero": false},
     "axis": {"orient": "left", "values": [-0.01,0.01,0.03,0.05,0.07,0.09,0.11,0.13,0.15,0.17], "tickCount": 100, "labels": false, "title": null, "domain": false, "tickSize": 3, "grid": false}}}},
  {
   "layer": [
    {"data": {"name": "A"}, "transform": [{"filter": "datum.D <= 19.8"}], "mark": {"type": "line", "strokeWidth": 0.8},
     "encoding": {
      "x": {"field": "D", "type": "quantitative", "scale": {"domain": [6, 19.8], "range": [170, 260], "nice": false, "zero": false},
            "axis": {"orient": "bottom", "offset": -107, "title": "D/nm", "titleFontSize": 9, "titlePadding": 2, "labelFontSize": 7.5, "labelPadding": 1, "tickSize": 2, "tickCount": 100, "values": [6,9,12,15,18], "format": "d", "labelFlush": false, "labelOverlap": false}},
      "y": {"field": "v", "type": "quantitative", "scale": {"domain": [0, 0.05], "range": [74, -2], "nice": false, "zero": false},
            "axis": {"orient": "left", "offset": -170, "title": "-dv/d(logD)(10³cm³/μm)", "titleFontSize": 8, "titlePadding": 2, "labelFontSize": 7.5, "labelPadding": 1, "tickSize": 2, "tickCount": 100, "values": [0,0.01,0.02,0.03,0.04,0.05], "format": ".2f", "labelFlush": false, "labelOverlap": false}},
      "color": {"field": "s", "type": "nominal", "legend": null}
     }},
    {"data": {"name": "one"}, "mark": {"type": "rect", "filled": false, "stroke": "black", "strokeWidth": 0.8},
     "encoding": {"x": {"datum": 6}, "x2": {"datum": 19.8}, "y": {"datum": 0}, "y2": {"datum": 0.05}}}
   ]
  }
 ]
},
{
 "width": 258, "height": 180,
 "title": {"text": "(d)", "orient": "bottom", "frame": "group", "anchor": "middle", "offset": 16, "font": "Liberation Serif", "fontSize": 17, "fontWeight": "bold", "color": "black"},
 "resolve": {"scale": {"x": "independent", "y": "independent"}},
 "layer": [
  {
   "layer": [
    {"data": {"name": "one"}, "mark": {"type": "rect", "fill": "#ababab", "stroke": "#555555", "strokeWidth": 0.8},
     "encoding": {"x": {"datum": 4.9, "type": "quantitative"}, "x2": {"datum": 18.9}, "y": {"datum": 0.0339, "type": "quantitative"}, "y2": {"datum": 0.066}}},
    {"data": {"name": "D"}, "mark": {"type": "line", "strokeWidth": 1.5},
     "encoding": {
      "x": {"field": "D", "type": "quantitative", "scale": {"type": "log", "domain": [1, 200000], "nice": false},
            "axis": {"title": "D/nm", "titleFontSize": 11, "titlePadding": 5, "labelFontSize": 10, "labelPadding": 3, "labelOverlap": false, "tickCount": 100,
                     "values": [1,2,3,4,5,6,7,8,9,10,20,30,40,50,60,70,80,90,100,200,300,400,500,600,700,800,900,1000,2000,3000,4000,5000,6000,7000,8000,9000,10000,20000,30000,40000,50000,60000,70000,80000,90000,100000,200000],
                     "labelExpr": "indexof([1,10,100,1000,10000,100000], datum.value) >= 0 ? format(datum.value, 'd') : ''",
                     "grid": true, "gridWidth": 0.8,
                     "gridColor": {"condition": {"test": "indexof([1,10,100,1000,10000,100000], datum.value) >= 0", "value": "#a0a0a0"}, "value": "#e4e4e4"},
                     "tickSize": {"condition": {"test": "indexof([1,10,100,1000,10000,100000], datum.value) >= 0", "value": 5}, "value": 3}}},
      "y": {"field": "v", "type": "quantitative", "scale": {"domain": [-0.024, 0.278], "nice": false, "zero": false},
            "axis": {"title": "-dv/d(logD)(10³cm³/μm)", "titleFontSize": 11, "titlePadding": 2, "labelPadding": 2, "labelFontSize": 9.5, "labelOverlap": false, "tickSize": 5, "format": ".2f", "tickCount": 100,
                     "values": [0,0.05,0.1,0.15,0.2,0.25]}},
      "color": {"field": "s", "type": "nominal", "scale": {"domain": ["28days-Control", "28days-3%-SiO₂"], "range": ["#000000", "#e8141a"]},
                "legend": {"orient": "none", "legendX": 0, "legendY": 1, "title": null, "strokeColor": "black", "padding": 2, "rowPadding": 0, "labelFontSize": 7.2, "labelOffset": 3, "symbolType": "M-1,0H1M-0.15,0A0.15,0.15,0,1,0,0.15,0A0.15,0.15,0,1,0,-0.15,0", "symbolSize": 170, "symbolStrokeWidth": 1.2}}
     }},
    {"data": {"name": "one"}, "mark": {"type": "rule", "strokeWidth": 0.8, "color": "black"},
     "encoding": {"x": {"datum": 26.7}, "y": {"datum": 0.046}, "x2": {"datum": 632}, "y2": {"datum": 0.106}}},
    {"data": {"name": "one"}, "mark": {"type": "point", "shape": "triangle-right", "filled": true, "color": "black", "size": 22, "angle": 332, "opacity": 1},
     "encoding": {"x": {"datum": 632}, "y": {"datum": 0.106}}}
   ]
  },
  {"data": {"name": "one"}, "mark": {"type": "point", "opacity": 0},
   "encoding": {"y": {"datum": 0, "type": "quantitative", "scale": {"domain": [-0.024, 0.278], "nice": false, "zero": false},
     "axis": {"orient": "left", "values": [0.025,0.075,0.125,0.175,0.225,0.275], "tickCount": 100, "labels": false, "title": null, "domain": false, "tickSize": 3, "grid": false}}}},
  {
   "layer": [
    {"data": {"name": "D"}, "transform": [{"filter": "datum.D <= 20"}], "mark": {"type": "line", "strokeWidth": 0.8},
     "encoding": {
      "x": {"field": "D", "type": "quantitative", "scale": {"type": "log", "domain": [6, 20], "range": [127, 257], "nice": false},
            "axis": {"orient": "bottom", "offset": -87, "title": "D/nm", "titleFontSize": 11, "titlePadding": 2, "labelFontSize": 9.5, "labelPadding": 1, "tickSize": 2, "tickCount": 100, "values": [6,8,10,12,14,16,18,20], "format": "d", "labelFlush": false, "labelOverlap": false}},
      "y": {"field": "v", "type": "quantitative", "scale": {"domain": [0.03, 0.06], "range": [93, 0], "nice": false, "zero": false},
            "axis": {"orient": "left", "offset": -127, "title": "-dv/d(logD)(10³cm³/μm)", "titleFontSize": 10, "titlePadding": 2, "labelFontSize": 9.5, "labelPadding": 1, "tickSize": 2, "tickCount": 100, "values": [0.03,0.04,0.05,0.06], "format": ".2f", "labelFlush": false, "labelOverlap": false}},
      "color": {"field": "s", "type": "nominal", "legend": null}
     }},
    {"data": {"name": "one"}, "mark": {"type": "rect", "filled": false, "stroke": "black", "strokeWidth": 0.8},
     "encoding": {"x": {"datum": 6}, "x2": {"datum": 20}, "y": {"datum": 0.03}, "y2": {"datum": 0.06}}}
   ]
  }
 ]
}
]
}
